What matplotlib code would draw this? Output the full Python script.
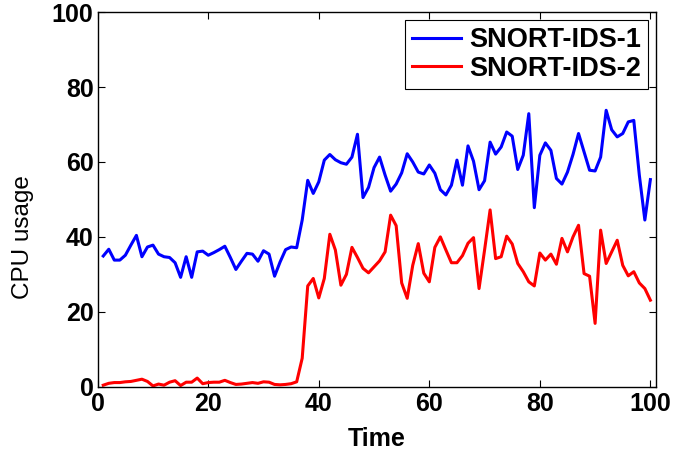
import matplotlib
matplotlib.use("Agg")
import matplotlib.pyplot as plt
import numpy as np

plt.rcParams['font.family'] = ['Liberation Sans', 'DejaVu Sans']

time = np.arange(1, 101)

ids1 = [34.9, 36.7, 33.8, 33.8, 35.1, 37.8, 40.4, 34.7, 37.3, 37.8,
        35.4, 34.7, 34.5, 33.1, 29.2, 34.7, 29.2, 36.0, 36.2, 35.1,
        35.8, 36.6, 37.5, 34.5, 31.3, 33.5, 35.6, 35.4, 33.5, 36.3,
        35.4, 29.5, 33.3, 36.6, 37.3, 37.1, 44.5, 55.1, 51.6, 54.7,
        60.5, 62.0, 60.6, 59.8, 59.4, 61.3, 67.4, 50.5, 53.2, 58.5,
        61.3, 56.5, 52.2, 54.1, 57.1, 62.2, 60.0, 57.3, 56.8, 59.2,
        57.0, 52.6, 51.2, 53.8, 60.5, 53.8, 64.3, 60.2, 52.6, 55.0,
        65.3, 62.1, 64.0, 68.0, 66.9, 58.0, 61.8, 72.9, 47.8, 61.8,
        65.1, 63.1, 55.6, 54.1, 57.3, 62.0, 67.6, 62.7, 57.8, 57.6,
        61.3, 73.8, 68.6, 66.7, 67.6, 70.7, 71.1, 56.5, 44.5, 55.3]

ids2 = [0.4, 0.9, 1.1, 1.1, 1.3, 1.4, 1.7, 2.0, 1.4, 0.2,
        0.7, 0.4, 1.2, 1.6, 0.3, 1.2, 1.2, 2.3, 0.8, 1.1,
        1.2, 1.2, 1.7, 1.1, 0.6, 0.7, 0.9, 1.1, 0.9, 1.3,
        1.2, 0.6, 0.5, 0.6, 0.8, 1.3, 7.6, 26.9, 28.9, 23.7,
        28.9, 40.7, 36.5, 27.1, 30.0, 37.2, 34.5, 31.6, 30.4, 32.0,
        33.6, 36.0, 45.8, 43.0, 27.7, 23.6, 32.4, 38.2, 30.3, 28.0,
        37.2, 40.0, 36.5, 33.1, 33.1, 35.0, 38.3, 39.8, 26.2, 36.5,
        47.2, 34.2, 34.7, 40.2, 38.1, 32.9, 30.7, 28.0, 26.9, 35.7,
        33.8, 35.4, 32.7, 39.6, 36.0, 40.0, 43.1, 30.2, 29.5, 16.9,
        41.8, 32.9, 36.0, 39.1, 32.4, 29.6, 30.7, 27.7, 26.2, 23.1]

labels = ["SNORT-IDS-1", "SNORT-IDS-2"]

fig = plt.figure(figsize=(7, 4.51), dpi=100)
ax = fig.add_axes([0.1396, 0.1426, 0.7974, 0.8304])

ax.plot(time, ids1, color="#0000ff", lw=2.2, label=labels[0])
ax.plot(time, ids2, color="#ff0000", lw=2.2, label=labels[1])

ax.set_xlim(0, 101)
ax.set_ylim(0, 100)
ax.set_xticks(range(0, 101, 20))
ax.set_yticks(range(0, 101, 20))

ax.tick_params(direction="in", top=True, right=True, length=5, width=0.8,
               labelsize=18)
ax.tick_params(axis="x", pad=4)
ax.tick_params(axis="y", pad=3)
for lbl in ax.get_xticklabels() + ax.get_yticklabels():
  lbl.set_fontweight("bold")
for s in ax.spines.values():
  s.set_linewidth(1.0)

ax.set_xlabel("Time", fontsize=18, fontweight="bold", labelpad=8)
ax.set_ylabel("CPU usage", fontsize=17.5)
ax.yaxis.set_label_coords(-0.114, 0.40)

leg = ax.legend(loc="upper right", prop={"weight": "bold", "size": 19.5},
                fancybox=False, edgecolor="black", framealpha=1,
                borderaxespad=0.3, handlelength=1.8, handletextpad=0.3,
                labelspacing=0.1, borderpad=0.25)
leg.get_frame().set_linewidth(0.8)

fig.savefig("out.png", dpi=100)
